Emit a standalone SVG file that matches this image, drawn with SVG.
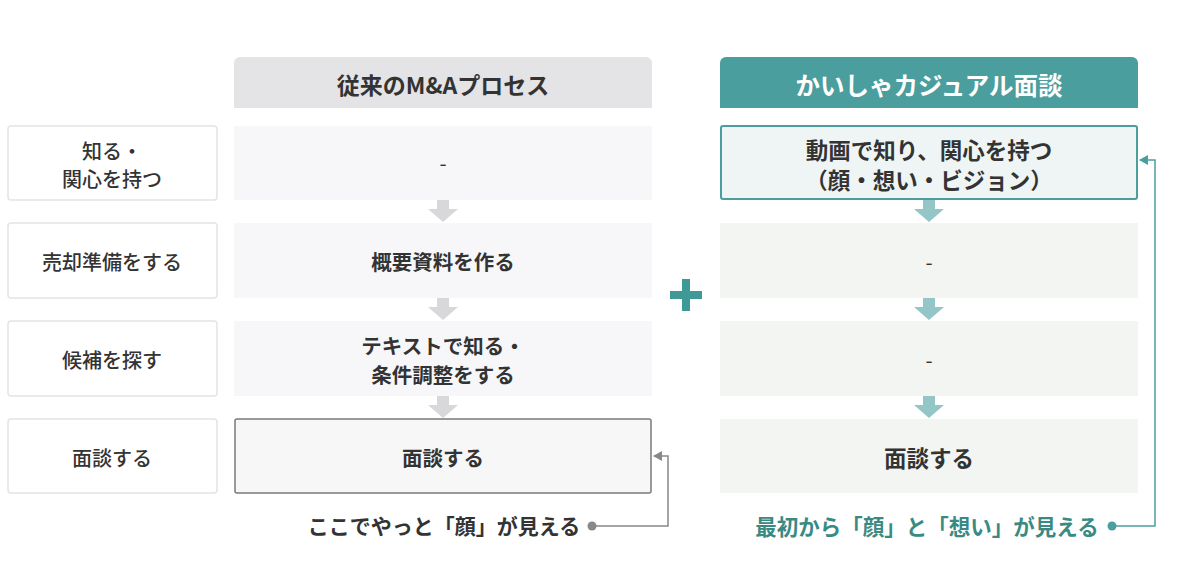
<svg xmlns="http://www.w3.org/2000/svg" width="1200" height="582" viewBox="0 0 1200 582">
<defs>
<style>
.t{font-family:"Noto Sans CJK JP","Noto Sans",sans-serif;text-anchor:middle;dominant-baseline:central;fill:#333}
.lab{font-size:20px;font-weight:500}
.cell{font-size:20.5px;font-weight:700}
.cellr{font-size:22.5px;font-weight:700}
.hd{font-size:23px;font-weight:700}
.side{fill:#fff;stroke:#e4e4e6;stroke-width:1.5}
.mid{fill:#f7f7f9}
.grn{fill:#f2f5f2}
.ga{fill:#d8d8da}
.ta{fill:#94c5c7}
</style>
<marker id="ahg" markerWidth="10" markerHeight="10" refX="8" refY="5" orient="auto" markerUnits="userSpaceOnUse"><path d="M0,0 L9,5 L0,10 Z" fill="#888"/></marker>
<marker id="aht" markerWidth="10" markerHeight="10" refX="8" refY="5" orient="auto" markerUnits="userSpaceOnUse"><path d="M0,0 L9,5 L0,10 Z" fill="#4a9e9e"/></marker>
</defs>
<rect width="1200" height="582" fill="#fff"/>

<g id="row-labels">
<g id="lab1"><rect class="side" x="8" y="126" width="209" height="74" rx="3"/><text class="t lab" x="112" y="150">知る・</text><text class="t lab" x="112" y="178">関心を持つ</text></g>
<g id="lab2"><rect class="side" x="8" y="223" width="209" height="75" rx="3"/><text class="t lab" x="112" y="261">売却準備をする</text></g>
<g id="lab3"><rect class="side" x="8" y="321" width="209" height="75" rx="3"/><text class="t lab" x="112" y="359">候補を探す</text></g>
<g id="lab4"><rect class="side" x="8" y="419" width="209" height="74" rx="3"/><text class="t lab" x="112" y="457">面談する</text></g>
</g>

<g id="header-left"><path d="M234,108 V63 a6,6 0 0 1 6,-6 H646 a6,6 0 0 1 6,6 V108 Z" fill="#e4e3e6"/><text class="t hd" x="443" y="84">従来のM&amp;Aプロセス</text></g>
<g id="header-right"><path d="M720,108 V63 a6,6 0 0 1 6,-6 H1132 a6,6 0 0 1 6,6 V108 Z" fill="#4a9e9e"/><text class="t hd" x="929" y="84" style="fill:#fff;font-size:24.5px">かいしゃカジュアル面談</text></g>

<g id="left-col">
<g id="m1"><rect class="mid" x="234" y="126" width="418" height="74"/><text class="t cell" x="443" y="162" style="font-weight:400">-</text></g>
<g id="m2"><rect class="mid" x="234" y="223" width="418" height="75"/><text class="t cell" x="443" y="261">概要資料を作る</text></g>
<g id="m3"><rect class="mid" x="234" y="321" width="418" height="75"/><text class="t cell" x="443" y="345">テキストで知る・</text><text class="t cell" x="443" y="374">条件調整をする</text></g>
<g id="m4"><rect x="235" y="419" width="416" height="74" rx="2" fill="#f7f7f8" stroke="#7a7a7a" stroke-width="1.5"/><text class="t cell" x="443" y="457">面談する</text></g>
</g>

<g id="right-col">
<g id="r1"><rect x="721" y="126" width="416" height="73" rx="2" fill="#eff5f5" stroke="#4a9e9e" stroke-width="2"/><text class="t cellr" x="929" y="149">動画で知り、関心を持つ</text><text class="t cellr" x="929" y="179">（顔・想い・ビジョン）</text></g>
<g id="r2"><rect class="grn" x="720" y="223" width="418" height="75"/><text class="t cell" x="929" y="261" style="font-weight:400">-</text></g>
<g id="r3"><rect class="grn" x="720" y="321" width="418" height="75"/><text class="t cell" x="929" y="359" style="font-weight:400">-</text></g>
<g id="r4"><rect class="grn" x="720" y="419" width="418" height="74"/><text class="t cellr" x="929" y="457">面談する</text></g>
</g>

<g id="plus"><path d="M682,279 h8 v12 h12 v8 h-12 v12 h-8 v-12 h-12 v-8 h12 Z" fill="#3f9a97"/></g>

<g id="connectors">
<path class="ga" d="M437,200 h12 v9 h9 l-15,13 l-15,-13 h9 Z"/>
<path class="ga" d="M437,298 h12 v9 h9 l-15,13 l-15,-13 h9 Z"/>
<path class="ga" d="M437,396 h12 v9 h9 l-15,13 l-15,-13 h9 Z"/>
<path class="ta" d="M923,200 h12 v9 h9 l-15,13 l-15,-13 h9 Z"/>
<path class="ta" d="M923,298 h12 v9 h9 l-15,13 l-15,-13 h9 Z"/>
<path class="ta" d="M923,396 h12 v9 h9 l-15,13 l-15,-13 h9 Z"/>
<circle cx="592" cy="526" r="4.5" fill="#888"/>
<path d="M592,526 H668 V456 H654" fill="none" stroke="#888" stroke-width="1.5" marker-end="url(#ahg)"/>
<circle cx="1112" cy="526" r="4.5" fill="#4a9e9e"/>
<path d="M1112,526 H1155 V160 H1140" fill="none" stroke="#4a9e9e" stroke-width="1.5" marker-end="url(#aht)"/>
</g>

<g id="notes">
<text class="t" x="444" y="525" style="font-size:21px;font-weight:700">ここでやっと「顔」が見える</text>
<text class="t" x="927" y="525" style="font-size:21.5px;font-weight:700;fill:#3a8a84">最初から「顔」と「想い」が見える</text>
</g>
</svg>
